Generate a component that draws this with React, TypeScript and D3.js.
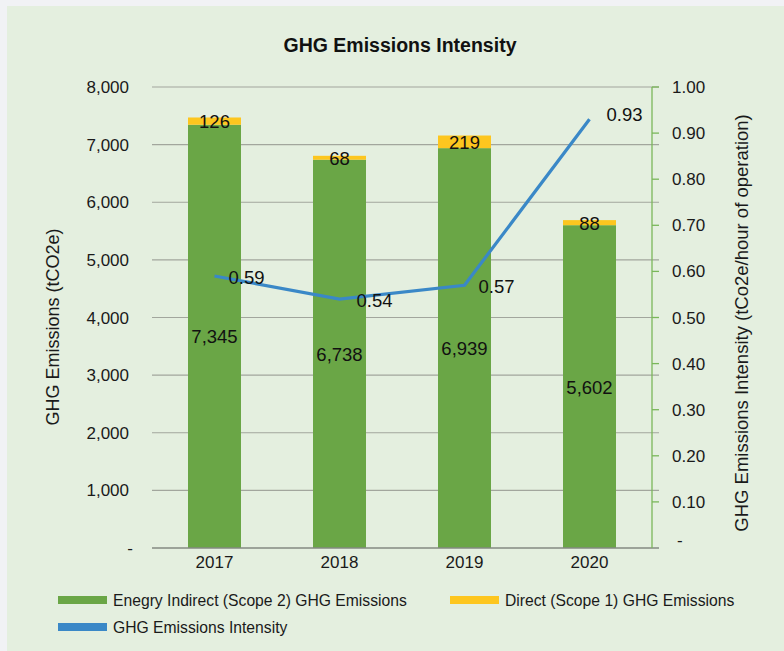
import React, { useEffect, useRef } from 'react';
import * as d3 from 'd3';

// chart data
const years = ['2017', '2018', '2019', '2020'];
const scope2 = [7345, 6738, 6939, 5602];
const scope1 = [126, 68, 219, 88];
const intensity = [0.59, 0.54, 0.57, 0.93];
const leftTicks = [0, 1000, 2000, 3000, 4000, 5000, 6000, 7000, 8000];
const rightTicks = [0, 0.1, 0.2, 0.3, 0.4, 0.5, 0.6, 0.7, 0.8, 0.9, 1.0];

const GREEN = '#6aa646';
const YELLOW = '#fdc61f';
const BLUE = '#3a88c7';
const FONT = '"Liberation Sans", Arial, Helvetica, sans-serif';

const App: React.FC = () => {
  const ref = useRef<SVGSVGElement>(null);

  useEffect(() => {
    const width = 784;
    const height = 651;
    const left = 152;
    const right = 652;
    const top = 87;
    const bottom = 548;

    const svg = d3.select(ref.current)
      .attr('width', width)
      .attr('height', height)
      .style('font-family', FONT);
    svg.selectAll('*').remove();

    // page + panel background
    svg.append('rect').attr('width', width).attr('height', height).attr('fill', '#f1f2f5');
    svg.append('rect').attr('x', 7).attr('y', 6).attr('width', width - 7).attr('height', height - 6).attr('fill', '#e4efdf');

    const x = d3.scaleBand<string>()
      .domain(years)
      .range([left, right])
      .paddingInner(0.576)
      .paddingOuter(0.288);

    const y = d3.scaleLinear().domain([0, 8000]).range([bottom, top]);
    const y2 = d3.scaleLinear().domain([0, 1]).range([bottom, top]);

    // title
    svg.append('text')
      .attr('x', 400).attr('y', 52)
      .attr('text-anchor', 'middle')
      .style('font-size', '19.5px').style('font-weight', 'bold')
      .attr('fill', '#111')
      .text('GHG Emissions Intensity');

    // gridlines
    svg.append('g')
      .selectAll('line')
      .data(leftTicks.filter(d => d > 0))
      .join('line')
      .attr('x1', left).attr('x2', 659)
      .attr('y1', d => y(d)).attr('y2', d => y(d))
      .attr('stroke', '#a2a69d').attr('stroke-width', 1.2);

    // left tick labels
    svg.append('g')
      .selectAll('text')
      .data(leftTicks)
      .join('text')
      .attr('x', d => d === 0 ? 133 : 129)
      .attr('y', d => y(d) + 6)
      .attr('text-anchor', 'end')
      .style('font-size', '17px')
      .attr('fill', '#1a1a1a')
      .text(d => d === 0 ? '-' : d3.format(',')(d));

    // bars
    const bars = svg.append('g');
    bars.selectAll('rect.s2')
      .data(years)
      .join('rect')
      .attr('class', 's2')
      .attr('x', d => x(d)!)
      .attr('width', x.bandwidth())
      .attr('y', (d, i) => y(scope2[i]))
      .attr('height', (d, i) => y(0) - y(scope2[i]))
      .attr('fill', GREEN);
    bars.selectAll('rect.s1')
      .data(years)
      .join('rect')
      .attr('class', 's1')
      .attr('x', d => x(d)!)
      .attr('width', x.bandwidth())
      .attr('y', (d, i) => y(scope2[i] + scope1[i]))
      .attr('height', (d, i) => y(scope2[i]) - y(scope2[i] + scope1[i]))
      .attr('fill', YELLOW);

    // baseline
    svg.append('line')
      .attr('x1', left).attr('x2', 659)
      .attr('y1', bottom).attr('y2', bottom)
      .attr('stroke', '#858a82').attr('stroke-width', 1.5);

    // right axis
    svg.append('line')
      .attr('x1', right).attr('x2', right)
      .attr('y1', y2(1)).attr('y2', bottom)
      .attr('stroke', '#7ab75a').attr('stroke-width', 1.3);
    svg.append('g')
      .selectAll('line')
      .data(rightTicks.filter(d => d > 0))
      .join('line')
      .attr('x1', right).attr('x2', 659)
      .attr('y1', d => y2(d)).attr('y2', d => y2(d))
      .attr('stroke', '#7ab75a').attr('stroke-width', 1.3);
    svg.append('g')
      .selectAll('text')
      .data(rightTicks)
      .join('text')
      .attr('x', d => d === 0 ? 677 : 672)
      .attr('y', d => d === 0 ? y2(d) - 2 : y2(d) + 6)
      .style('font-size', '17px')
      .attr('fill', '#1a1a1a')
      .text(d => d === 0 ? '-' : d3.format('.2f')(d));

    // x labels
    svg.append('g')
      .selectAll('text')
      .data(years)
      .join('text')
      .attr('x', d => x(d)! + x.bandwidth() / 2)
      .attr('y', 568)
      .attr('text-anchor', 'middle')
      .style('font-size', '17px')
      .attr('fill', '#1a1a1a')
      .text(d => d);

    // bar value labels
    const labels = svg.append('g')
      .style('font-size', '18.5px')
      .attr('fill', '#111')
      .attr('text-anchor', 'middle');
    labels.selectAll('text.l2')
      .data(years)
      .join('text')
      .attr('class', 'l2')
      .attr('x', d => x(d)! + x.bandwidth() / 2)
      .attr('y', (d, i) => (y(0) + y(scope2[i])) / 2 + 7)
      .text((d, i) => d3.format(',')(scope2[i]));
    labels.selectAll('text.l1')
      .data(years)
      .join('text')
      .attr('class', 'l1')
      .attr('x', d => x(d)! + x.bandwidth() / 2)
      .attr('y', (d, i) => (y(scope2[i]) + y(scope2[i] + scope1[i])) / 2 + 7)
      .text((d, i) => scope1[i]);

    // intensity line
    const line = d3.line<number>()
      .x((d, i) => x(years[i])! + x.bandwidth() / 2)
      .y(d => y2(d));
    svg.append('path')
      .datum(intensity)
      .attr('d', line)
      .attr('fill', 'none')
      .attr('stroke', BLUE)
      .attr('stroke-width', 3.2);

    svg.append('g')
      .selectAll('text')
      .data(intensity)
      .join('text')
      .attr('x', (d, i) => x(years[i])! + x.bandwidth() / 2 + (i === 3 ? 17 : 14 + (i === 1 ? 3 : 0)))
      .attr('y', (d, i) => y2(d) + (i === 3 ? 2 : 8))
      .style('font-size', '18.5px')
      .attr('fill', '#111')
      .text(d => d3.format('.2f')(d));

    // axis titles
    svg.append('text')
      .attr('transform', 'translate(59,327) rotate(-90)')
      .attr('text-anchor', 'middle')
      .style('font-size', '18px')
      .attr('fill', '#1a1a1a')
      .text('GHG Emissions (tCO2e)');
    svg.append('text')
      .attr('transform', 'translate(748,323) rotate(-90)')
      .attr('text-anchor', 'middle')
      .style('font-size', '18.5px')
      .attr('fill', '#1a1a1a')
      .text('GHG Emissions Intensity (tCo2e/hour of operation)');

    // legend
    const legendItems = [
      { label: 'Enegry Indirect (Scope 2) GHG Emissions', color: GREEN, lx: 58, ly: 596 },
      { label: 'Direct (Scope 1) GHG Emissions', color: YELLOW, lx: 450, ly: 596 },
      { label: 'GHG Emissions Intensity', color: BLUE, lx: 58, ly: 623 },
    ];
    const legend = svg.append('g')
      .selectAll('g')
      .data(legendItems)
      .join('g')
      .attr('transform', d => `translate(${d.lx},${d.ly})`);
    legend.append('rect')
      .attr('width', 49).attr('height', 8)
      .attr('fill', d => d.color);
    legend.append('text')
      .attr('x', 55).attr('y', 10)
      .style('font-size', '15.7px')
      .attr('fill', '#1a1a1a')
      .text(d => d.label);
  }, []);

  return (
    <div style={{ position: 'absolute', left: 0, top: 0 }}>
      <svg ref={ref} style={{ display: 'block' }} />
    </div>
  );
};

export default App;
